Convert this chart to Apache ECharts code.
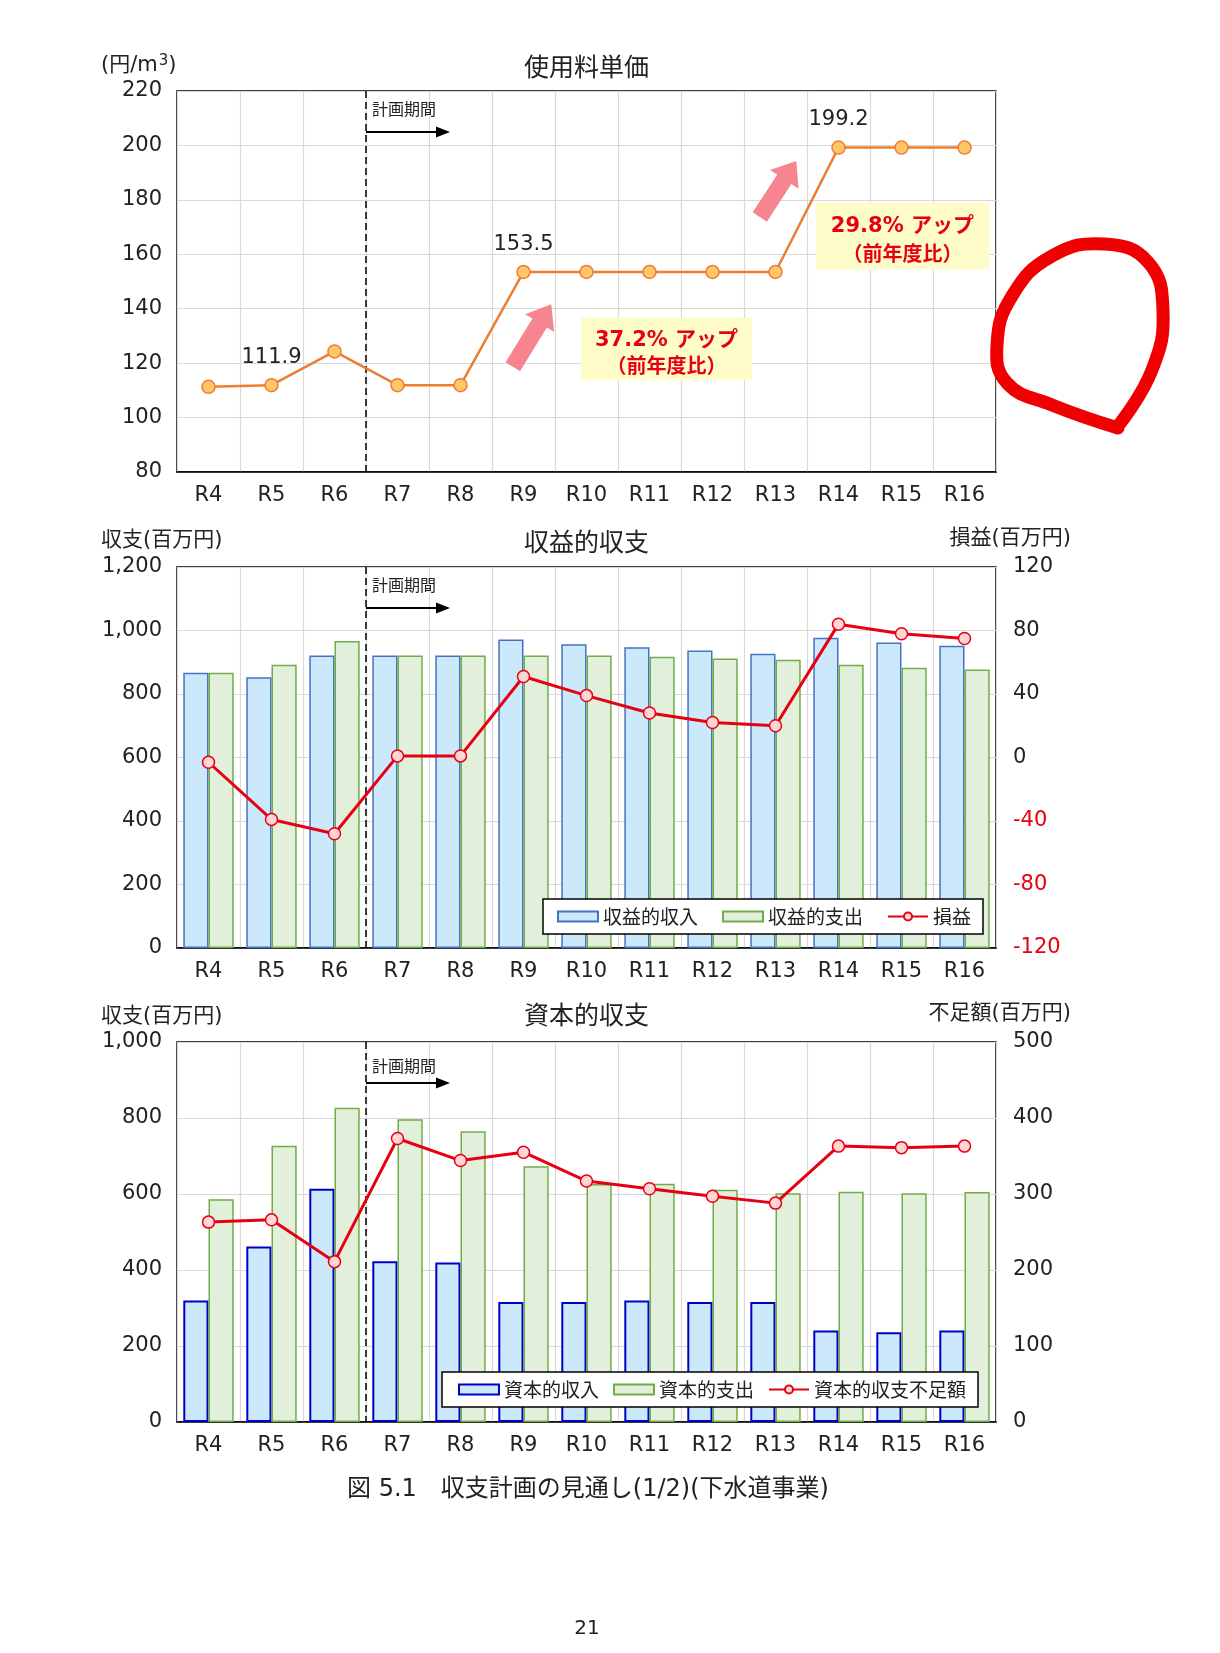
<!DOCTYPE html>
<html><head><meta charset="utf-8">
<script src="https://cdn.jsdelivr.net/npm/echarts@6/dist/echarts.min.js"></script>
<style>html,body{margin:0;padding:0;background:#fff}#c{width:1220px;height:1653px}</style>
</head><body><div id="c"></div>
<script>
// ---- data ----
const categories = ['R4','R5','R6','R7','R8','R9','R10','R11','R12','R13','R14','R15','R16'];
const unitPrice = [111.3,111.9,124.3,111.9,111.9,153.5,153.5,153.5,153.5,153.5,199.2,199.2,199.2];
const unitPriceLabelIdx = [1,5,10];
const revIncome  = [867,853,921,921,921,972,957,947,937,927,977,962,952];
const revExpense = [867,892,967,921,921,921,921,917,912,908,892,883,877];
const revProfit  = [-3,-39,-48,1,1,51,39,28,22,20,84,78,75];
const capIncome  = [320,462,614,423,420,316,316,320,316,316,241,236,241];
const capExpense = [586,727,827,797,765,673,626,627,611,602,606,602,605];
const capShortfall = [263,266,211,373,344,355,317,307,297,288,363,361,363];
const priceTicks = {min:80, max:220, interval:20};
const revLeftTicks = {min:0, max:1200, interval:200};
const revRightTicks = {min:-120, max:120, interval:40};
const capLeftTicks = {min:0, max:1000, interval:200};
const capRightTicks = {min:0, max:500, interval:100};

const FONT = "'DejaVu Sans', 'Noto Sans CJK JP'";
const CJK = "'Noto Sans CJK JP'";
const chart = echarts.init(document.getElementById('c'));

const grids = [
  {left:177, right:224, top:91, height:381},
  {left:177, right:224, top:567, height:381},
  {left:177, right:224, top:1042, height:380}
];
function xAxisFor(i){
  return {type:'category', gridIndex:i, data:categories, boundaryGap:true,
    axisTick:{show:false}, axisLine:{show:true, lineStyle:{color:'#000', width:1.5}},
    splitLine:{show:true, lineStyle:{color:'#d9d9d9', width:1.2}},
    axisLabel:{fontSize:21, color:'#222', margin:13, fontFamily:FONT}};
}
function yAxisFor(g, t, pos, colorFn, fmt){
  return {type:'value', gridIndex:g, position:pos, min:t.min, max:t.max, interval:t.interval,
    axisLine:{show:false}, axisTick:{show:false},
    splitLine:{show:pos==='left', lineStyle:{color:'#d9d9d9', width:1.2}},
    axisLabel:{fontSize:21, color:colorFn||'#222', margin:pos==='left'?15:17, fontFamily:FONT,
      formatter: fmt || (v=>String(v))}};
}
const comma = v => v.toLocaleString('en-US');

const barBlue = {color:'#cbe9fb', borderColor:'#4472c4', borderWidth:1.5};
const barGreen = {color:'#e2efda', borderColor:'#70ad47', borderWidth:1.5};
const barBlue2 = {color:'#cbe9fb', borderColor:'#0000c8', borderWidth:2};
const redLine = {
  type:'line', symbol:'circle', symbolSize:12, z:5,
  lineStyle:{color:'#e60012', width:3},
  itemStyle:{color:'#ffd5d5', borderColor:'#e60012', borderWidth:1.5}
};

const option = {
  animation:false,
  backgroundColor:'#fff',
  textStyle:{fontFamily:FONT},
  grid: grids.map(g=>Object.assign({show:true, borderColor:'#000', borderWidth:1.5, backgroundColor:'transparent'}, g)),
  xAxis:[xAxisFor(0), xAxisFor(1), xAxisFor(2)],
  yAxis:[
    yAxisFor(0, priceTicks, 'left'),
    yAxisFor(1, revLeftTicks, 'left', null, comma),
    yAxisFor(1, revRightTicks, 'right', (v)=> (parseFloat(v) < 0 ? '#e60012' : '#222')),
    yAxisFor(2, capLeftTicks, 'left', null, comma),
    yAxisFor(2, capRightTicks, 'right')
  ],
  legend:[
    {data:[{name:'収益的収入', icon:'rect'},{name:'収益的支出', icon:'rect'},'損益'],
     right:237, top:899, borderColor:'#000', borderWidth:1.5, backgroundColor:'#fff',
     padding:[8,12,8,14], itemGap:24, itemWidth:40, itemHeight:10,
     textStyle:{fontSize:19, color:'#222', fontFamily:CJK}},
    {data:[{name:'資本的収入', icon:'rect'},{name:'資本的支出', icon:'rect'},'資本的収支不足額'],
     right:242, top:1372, borderColor:'#000', borderWidth:1.5, backgroundColor:'#fff',
     padding:[8,12,8,16], itemGap:14, itemWidth:40, itemHeight:10,
     textStyle:{fontSize:19, color:'#222', fontFamily:CJK}}
  ],
  series:[
    {name:'使用料単価', type:'line', xAxisIndex:0, yAxisIndex:0, symbol:'circle', symbolSize:13, z:5,
     lineStyle:{color:'#ed7d31', width:2.5},
     itemStyle:{color:'#ffc76a', borderColor:'#ed7d31', borderWidth:1.5},
     data: unitPrice.map((v,i)=> unitPriceLabelIdx.includes(i)
        ? {value:v, label:{show:true, position:'top', distance:10, fontSize:21, color:'#222', fontFamily:FONT, formatter:(p)=>p.value.toFixed(1)}}
        : v)},
    {name:'収益的収入', type:'bar', xAxisIndex:1, yAxisIndex:1, barGap:'0%', barCategoryGap:'20%', itemStyle:barBlue, data:revIncome},
    {name:'収益的支出', type:'bar', xAxisIndex:1, yAxisIndex:1, barGap:'0%', barCategoryGap:'20%', itemStyle:barGreen, data:revExpense},
    Object.assign({name:'損益', xAxisIndex:1, yAxisIndex:2, data:revProfit}, redLine),
    {name:'資本的収入', type:'bar', xAxisIndex:2, yAxisIndex:3, barGap:'0%', barCategoryGap:'20%', itemStyle:barBlue2, data:capIncome},
    {name:'資本的支出', type:'bar', xAxisIndex:2, yAxisIndex:3, barGap:'0%', barCategoryGap:'20%', itemStyle:barGreen, data:capExpense},
    Object.assign({name:'資本的収支不足額', xAxisIndex:2, yAxisIndex:4, data:capShortfall}, redLine)
  ]
};
chart.setOption(option);

// ---- annotations (positions derived from the axes) ----
const gfx = [];
function txt(x,y,s,size,align,extra){
  gfx.push({type:'text', x:x, y:y, z:100, style:Object.assign({text:s, fontSize:size, fontFamily:FONT, fill:'#222', textAlign:align||'left', textVerticalAlign:'middle'}, extra||{})});
}
const yAxisOfGrid = [0,1,3];
const yRange = [priceTicks, revLeftTicks, capLeftTicks];
function xAt(g, f){
  const a = chart.convertToPixel({xAxisIndex:g, yAxisIndex:yAxisOfGrid[g]}, [0, yRange[g].min]);
  const b = chart.convertToPixel({xAxisIndex:g, yAxisIndex:yAxisOfGrid[g]}, [1, yRange[g].min]);
  return a[0] + f*(b[0]-a[0]);
}
function yAt(g, v){
  return chart.convertToPixel({xAxisIndex:g, yAxisIndex:yAxisOfGrid[g]}, [0, v])[1];
}
function blockArrow(x1,y1,x2,y2,sw,hw,hl,color){
  const L = Math.hypot(x2-x1,y2-y1), dx=(x2-x1)/L, dy=(y2-y1)/L, nx=-dy, ny=dx;
  const nxp = x2-dx*hl, nyp = y2-dy*hl;
  gfx.push({type:'polygon', z:50, shape:{points:[
    [x1+nx*sw/2, y1+ny*sw/2],[nxp+nx*sw/2, nyp+ny*sw/2],[nxp+nx*hw/2, nyp+ny*hw/2],[x2,y2],
    [nxp-nx*hw/2, nyp-ny*hw/2],[nxp-nx*sw/2, nyp-ny*sw/2],[x1-nx*sw/2, y1-ny*sw/2]]},
    style:{fill:color}});
}
for (let g=0; g<3; g++){
  const xd = (xAt(g,2)+xAt(g,3))/2;
  const yt = yAt(g, yRange[g].max), yb = yAt(g, yRange[g].min);
  gfx.push({type:'line', z:3, shape:{x1:xd, y1:yt, x2:xd, y2:yb}, style:{stroke:'#000', lineWidth:1.5, lineDash:[7,4]}});
  txt(xd+6, yt+(g===2?24:18), '計画期間', 16, 'left', {fontFamily:CJK});
  const ay = yt+41;
  gfx.push({type:'line', z:50, shape:{x1:xd, y1:ay, x2:xd+72, y2:ay}, style:{stroke:'#000', lineWidth:2}});
  gfx.push({type:'polygon', z:50, shape:{points:[[xd+70,ay-5.5],[xd+84,ay],[xd+70,ay+5.5]]}, style:{fill:'#000'}});
}
// top chart callouts
const pink = 'rgba(246,120,132,0.9)';
blockArrow(xAt(0,4.83), yAt(0,118.7), xAt(0,5.44), yAt(0,141.6), 17, 34, 22, pink);
blockArrow(xAt(0,8.75), yAt(0,173.7), xAt(0,9.33), yAt(0,194.3), 17, 34, 22, pink);
function callout(f1,v1,f2,v2,line1){
  const x1=xAt(0,f1), y1=yAt(0,v1), x2=xAt(0,f2), y2=yAt(0,v2);
  gfx.push({type:'rect', z:40, shape:{x:x1, y:y1, width:x2-x1, height:y2-y1}, style:{fill:'#fefdc9'}});
  const cx=(x1+x2)/2;
  txt(cx, y1+(y2-y1)*0.36, line1, 21, 'center', {fill:'#e60012', fontWeight:'bold'});
  txt(cx, y1+(y2-y1)*0.76, '（前年度比）', 20, 'center', {fill:'#e60012', fontWeight:'bold', fontFamily:CJK});
}
callout(5.91,136.8,8.63,113.6,'37.2% アップ');
callout(9.64,178.9,12.39,154.5,'29.8% アップ');

// titles, units, caption
const cxPlot = (xAt(0,-0.5)+xAt(0,12.5))/2;
txt(cxPlot, 66, '使用料単価', 25, 'center', {fontFamily:CJK});
txt(cxPlot, 541, '収益的収支', 25, 'center', {fontFamily:CJK});
txt(cxPlot, 1014, '資本的収支', 25, 'center', {fontFamily:CJK});
gfx.push({type:'text', x:101, y:66, z:100, style:{text:'(円/m{sup|3})', fontSize:21, fontFamily:FONT, fill:'#222', textAlign:'left', textVerticalAlign:'middle',
  rich:{sup:{fontSize:15, fontFamily:FONT, fill:'#222', padding:[0,0,9,1]}}}});
txt(101, 541, '収支(百万円)', 21);
txt(1071, 539, '損益(百万円)', 21, 'right');
txt(101, 1017, '収支(百万円)', 21);
txt(1071, 1014, '不足額(百万円)', 21, 'right');
txt(588, 1490, '図 5.1　収支計画の見通し(1/2)(下水道事業)', 24, 'center');
txt(587, 1629, '21', 20, 'center');

// hand-drawn red circle mark
gfx.push({type:'polyline', z:200, shape:{smooth:0.45, points:[
  [1118,426],[1152,370],[1163,310],[1148,262],[1105,244],[1052,256],[1012,296],[997,345],[1007,383],[1052,405],[1118,428]]},
  style:{stroke:'#f00000', lineWidth:13, fill:null, lineJoin:'round', lineCap:'round'}});

chart.setOption({graphic:gfx});
</script></body></html>
